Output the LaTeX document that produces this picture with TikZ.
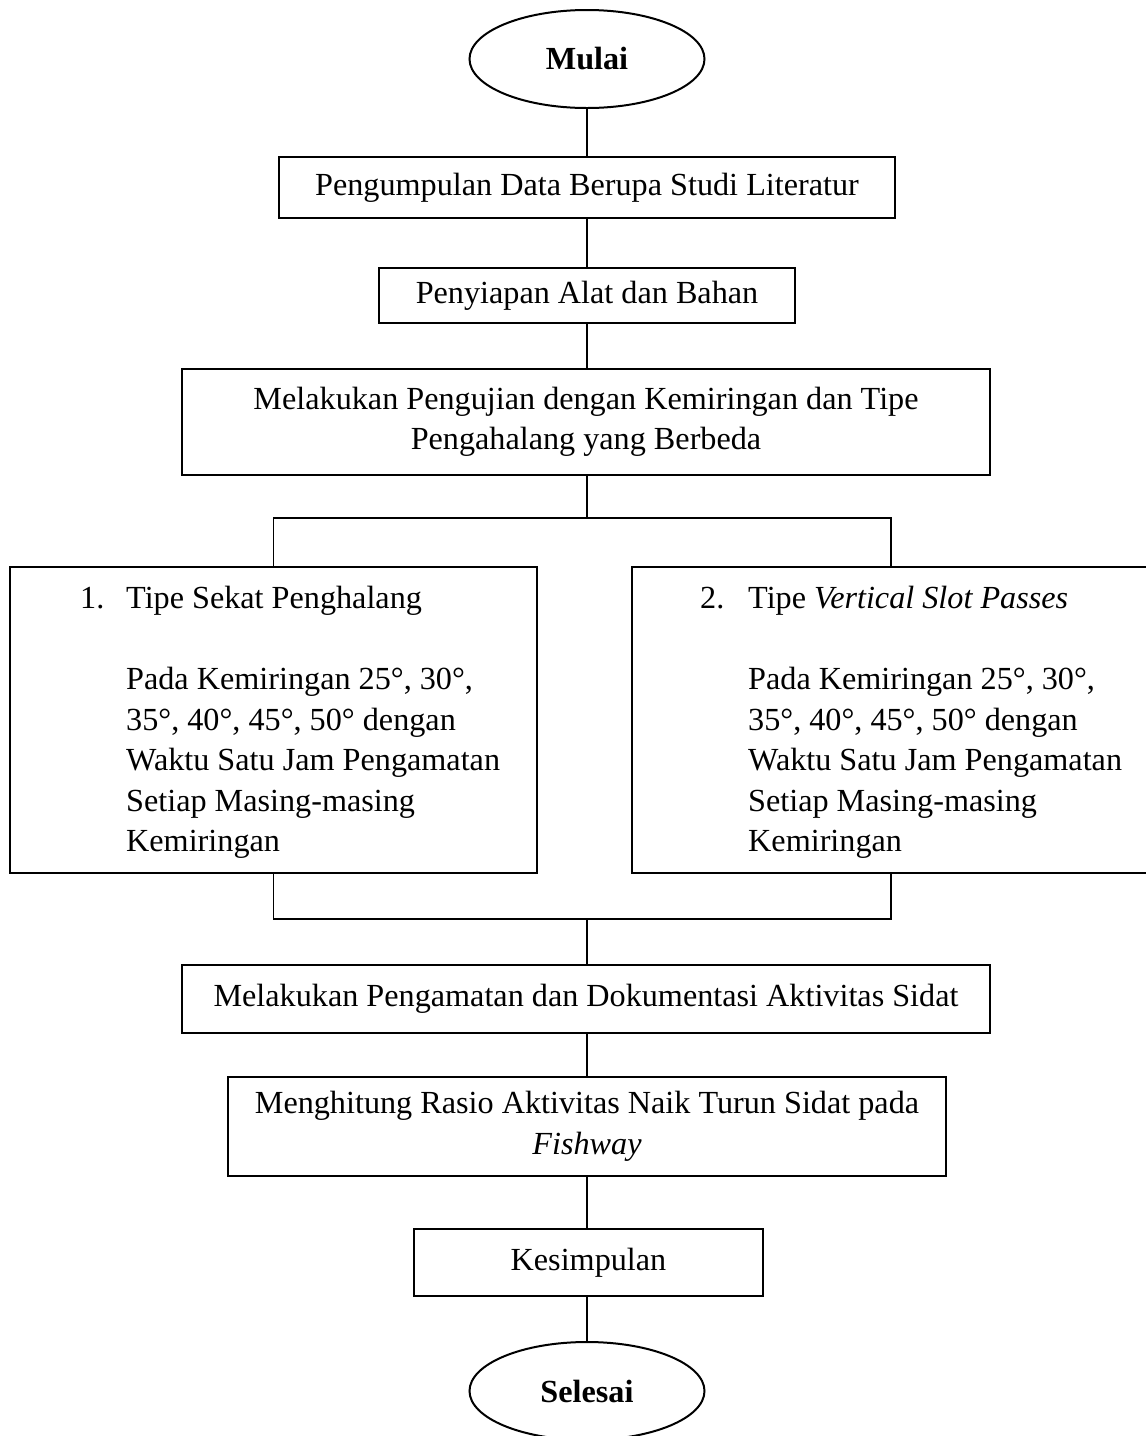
\documentclass[tikz,border=0pt]{standalone}
\usepackage{fontspec}
\setmainfont{Liberation Serif}
\usetikzlibrary{shapes.geometric}
\begin{document}
\begin{tikzpicture}[x=1pt,y=-1pt,
  every node/.style={font=\fontsize{32.2}{40.5}\selectfont},
  box/.style={draw, line width=1.3pt, rectangle, inner sep=0pt, align=center},
  term/.style={draw, line width=2pt, ellipse, inner sep=0pt, minimum width=235pt, minimum height=98pt, font=\fontsize{32.2}{40.5}\selectfont\bfseries},
  conn/.style={line width=1.3pt},
  listtxt/.style={anchor=north west, inner sep=0pt, align=left}
]
\useasboundingbox (0,0) rectangle (1146,1436);
% terminals
\node[term] (start) at (587,59) {Mulai};
\node[term] (stop) at (587,1391) {Selesai};
% main column
\node[box, minimum width=616pt, minimum height=61pt] (b1) at (587,187.5) {Pengumpulan Data Berupa Studi Literatur};
\node[box, minimum width=416pt, minimum height=55pt] (b2) at (587,295.5) {Penyiapan Alat dan Bahan};
\node[box, minimum width=808pt, minimum height=106pt] (b3) at (586,422) {Melakukan Pengujian dengan Kemiringan dan Tipe\\Pengahalang yang Berbeda};
\node[box, minimum width=527pt, minimum height=306pt] (L) at (273.5,720) {};
\node[box, minimum width=518pt, minimum height=306pt] (R) at (891,720) {};
\node[box, minimum width=808pt, minimum height=68pt] (b4) at (586,999) {Melakukan Pengamatan dan Dokumentasi Aktivitas Sidat};
\node[box, minimum width=718pt, minimum height=99pt] (b5) at (587,1126.5) {Menghitung Rasio Aktivitas Naik Turun Sidat pada\\\textit{Fishway}};
\node[box, minimum width=349pt, minimum height=67pt] (b6) at (588.5,1262.5) {Kesimpulan};
% list texts
\node[listtxt] (Ltxt) at (80,580) {\begin{tabular}{@{}p{46pt}@{}l@{}}
1. & Tipe Sekat Penghalang\\
 & \\
 & Pada Kemiringan 25°, 30°,\\
 & 35°, 40°, 45°, 50° dengan\\
 & Waktu Satu Jam Pengamatan\\
 & Setiap Masing-masing\\
 & Kemiringan
\end{tabular}};
\node[listtxt] (Rtxt) at (700,580) {\begin{tabular}{@{}p{48pt}@{}l@{}}
2. & Tipe \textit{Vertical Slot Passes}\\
 & \\
 & Pada Kemiringan 25°, 30°,\\
 & 35°, 40°, 45°, 50° dengan\\
 & Waktu Satu Jam Pengamatan\\
 & Setiap Masing-masing\\
 & Kemiringan
\end{tabular}};
% split / join points
\coordinate (split) at (587,518);
\coordinate (join) at (587,919);
% connectors
\draw[conn] (start) -- (b1);
\draw[conn] (b1) -- (b2);
\draw[conn] (b2.south) -- (b2.south |- b3.north);
\draw[conn] (b3.south -| split) -- (split);
\draw[conn] (L.north) |- (split) -| (R.north);
\draw[conn] (L.south) |- (join) -| (R.south);
\draw[conn] (join) -- (join |- b4.north);
\draw[conn] (b4.south -| join) -- (join |- b5.north);
\draw[conn] (b5.south -| join) -- (join |- b6.north);
\draw[conn] (b6.south -| join) -- (stop.north);
\end{tikzpicture}
\end{document}
